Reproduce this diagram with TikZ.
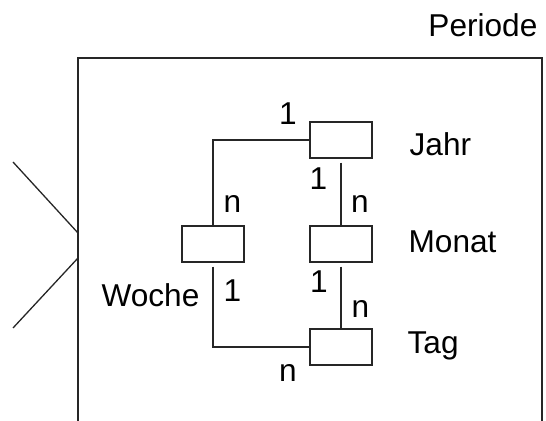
\documentclass[tikz,border=0pt]{standalone}
\usepackage{fontspec}
\setmainfont{Liberation Sans}
\usetikzlibrary{positioning}

\tikzset{
  ebene/.style={draw, minimum width=31pt, minimum height=18pt, inner sep=0pt},
  kard/.style={anchor=base, inner sep=0pt},
  lbl/.style={inner sep=0pt}
}

\begin{document}
\begin{tikzpicture}[x=0.5pt, y=-0.5pt, line width=0.65pt, black!85,
                    font=\fontsize{15.8}{18}\selectfont]
                    \useasboundingbox (0,0) rectangle (546,421);
                    % Rahmen der Dimension und Anbindung links
                    \draw (78,421) -- (78,58) -- (542,58) -- (542,421);
                    \draw (13,162) -- (78,233);
                    \draw (78,258) -- (13,328);
                    \node[lbl, anchor=base east, text=black] (periode) at (538,37) {Periode};
                    % Hierarchiestufen
                    \node[ebene] (Jahr) at (341,140) {};
                    \node[ebene] (Monat) at (341,244) {};
                    \node[ebene] (Woche) at (213,244) {};
                    \node[ebene] (Tag) at (341,347) {};
                    \node[lbl, anchor=base west, text=black] (tJahr) at (409,156) {Jahr};
                    \node[lbl, anchor=base west, text=black] (tMonat) at (408,253) {Monat};
                    \node[lbl, anchor=base west, text=black] (tTag) at (407,354) {Tag};
                    \node[lbl, anchor=base east, text=black] (tWoche) at (200,307) {Woche};
                    % Verbindungen
                    \draw (Jahr.west) -| (Woche.north);
                    \draw[shorten <=2pt] (Woche.south) |- (Tag.west);
                    \draw[shorten <=2pt] (Jahr.south) -- (Monat.north);
                    \draw[shorten <=2pt] (Monat.south) -- (Tag.north);
                    % Kardinalitaeten
                    \node[kard, text=black] (k1) at (288,125) {1};
                    \node[kard, text=black] (k2) at (318.5,190) {1};
                    \node[kard, text=black] (k3) at (232.5,213) {n};
                    \node[kard, text=black] (k4) at (360,213) {n};
                    \node[kard, text=black] (k5) at (232.5,302) {1};
                    \node[kard, text=black] (k6) at (319,293) {1};
                    \node[kard, text=black] (k7) at (360.5,318) {n};
                    \node[kard, text=black] (k8) at (288,382) {n};
\end{tikzpicture}
\end{document}
